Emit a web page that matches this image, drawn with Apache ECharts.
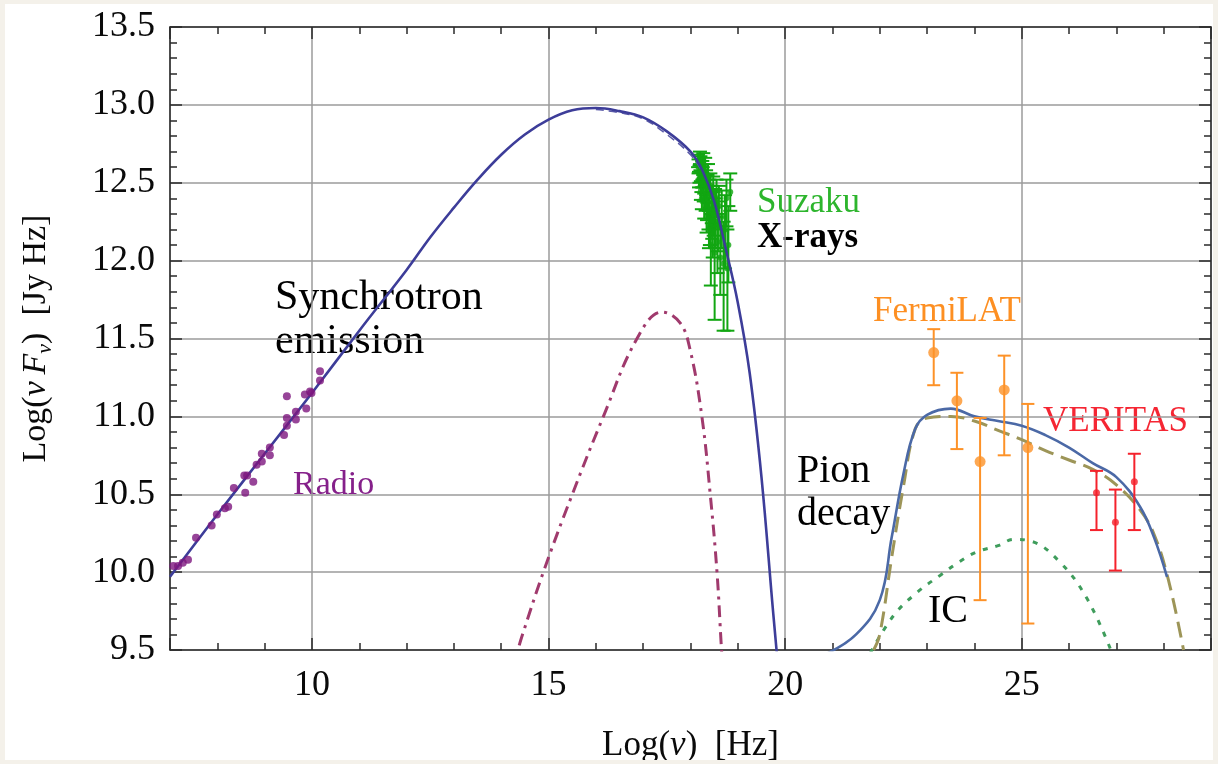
<!DOCTYPE html>
<html>
<head>
<meta charset="utf-8">
<script src="https://cdn.jsdelivr.net/npm/echarts@6/dist/echarts.min.js"></script>
<style>
  html, body { margin: 0; padding: 0; background: #f4f1ea; }
  #chart { position: absolute; left: 5px; top: 4px; width: 1208px; height: 756px; background: #ffffff; }
</style>
</head>
<body>
<div id="chart"></div>
<script>
// ---- Axis ranges ----
const X_MIN = 7, X_MAX = 29;
const Y_MIN = 9.5, Y_MAX = 13.5, Y_STEP = 0.5;

// ---- Radio observations (log nu [Hz], log nuFnu [Jy Hz]) ----
const radioX = [7.07, 7.17, 7.27, 7.38, 7.55, 7.88, 7.99, 8.16, 8.23, 8.35, 8.59, 8.57, 8.63, 8.76, 8.83,
                8.94, 8.94, 9.11, 9.11, 9.41, 9.47, 9.47, 9.66, 9.66, 9.47, 9.88, 9.85, 9.96, 9.99, 10.17, 10.17];
const radioY = [10.04, 10.04, 10.06, 10.08, 10.22, 10.30, 10.37, 10.41, 10.42, 10.54, 10.51, 10.62, 10.62, 10.58, 10.69,
                10.71, 10.76, 10.75, 10.80, 10.88, 10.94, 10.99, 10.98, 11.03, 11.13, 11.05, 11.14, 11.16, 11.15, 11.23, 11.29];

// ---- Suzaku X-ray points with lower / upper error ----
const suzX  = [18.17, 18.19, 18.21, 18.23, 18.25, 18.27, 18.28, 18.30, 18.32, 18.33, 18.35, 18.36, 18.38, 18.40, 18.41, 18.43,
               18.45, 18.47, 18.49, 18.51, 18.53, 18.55, 18.57, 18.60, 18.63, 18.66, 18.70, 18.73, 18.76, 18.80, 18.84, 18.78,
               18.16, 18.18, 18.20, 18.22, 18.24, 18.26, 18.29, 18.31, 18.34, 18.37, 18.39, 18.42, 18.46, 18.48, 18.52, 18.58];
const suzY  = [12.60, 12.55, 12.63, 12.50, 12.58, 12.62, 12.45, 12.55, 12.40, 12.50, 12.35, 12.46, 12.30, 12.42, 12.22, 12.10,
               12.36, 12.18, 12.30, 12.05, 12.25, 12.40, 12.12, 12.35, 12.02, 12.28, 11.98, 12.20, 12.40, 12.10, 12.44, 11.95,
               12.64, 12.52, 12.66, 12.45, 12.40, 12.53, 12.35, 12.60, 12.28, 12.55, 12.20, 12.48, 12.26, 12.44, 12.35, 12.22];
const suzLo = [12.56, 12.50, 12.58, 12.44, 12.52, 12.55, 12.38, 12.48, 12.32, 12.42, 12.26, 12.37, 12.20, 12.32, 12.10, 11.84,
               12.24, 12.02, 12.16, 11.62, 12.08, 12.28, 11.92, 12.20, 11.78, 12.08, 11.55, 11.95, 12.22, 11.86, 12.32, 11.55,
               12.60, 12.47, 12.62, 12.39, 12.33, 12.47, 12.27, 12.54, 12.18, 12.48, 12.08, 12.40, 12.14, 12.34, 12.22, 12.06];
const suzHi = [12.65, 12.61, 12.67, 12.57, 12.64, 12.69, 12.53, 12.62, 12.48, 12.58, 12.44, 12.55, 12.40, 12.52, 12.34, 12.30,
               12.48, 12.32, 12.44, 12.28, 12.40, 12.52, 12.30, 12.48, 12.22, 12.45, 12.25, 12.42, 12.52, 12.35, 12.56, 12.20,
               12.68, 12.57, 12.70, 12.51, 12.47, 12.60, 12.43, 12.66, 12.38, 12.62, 12.32, 12.56, 12.38, 12.54, 12.46, 12.38];

// ---- Fermi-LAT points ----
const fermiX  = [23.14, 23.63, 24.12, 24.63, 25.13];
const fermiY  = [11.41, 11.10, 10.71, 11.17, 10.80];
const fermiLo = [11.20, 10.79, 9.82, 10.75, 9.67];
const fermiHi = [11.56, 11.28, 10.99, 11.39, 11.08];

// ---- VERITAS points ----
const verX  = [26.58, 26.98, 27.38];
const verY  = [10.51, 10.32, 10.58];
const verLo = [10.27, 10.01, 10.27];
const verHi = [10.65, 10.53, 10.76];

// ---- Model curves ----
// total synchrotron
const synX = [7, 8, 9, 10, 11, 12, 12.5, 13, 13.5, 14, 14.5, 15, 15.5, 16, 16.5, 17, 17.5, 18, 18.25, 18.5, 18.75, 19, 19.25, 19.5, 19.75, 20];
const synY = [9.97, 10.37, 10.76, 11.15, 11.55, 11.94, 12.15, 12.34, 12.52, 12.68, 12.81, 12.905, 12.965, 12.98, 12.96, 12.92, 12.83, 12.70, 12.58, 12.38, 12.07, 11.73, 11.28, 10.61, 9.73, 8.90];
// synchrotron component alone (dashed)
const synCompX = [16.0, 16.5, 17.0, 17.5, 18.0, 18.25];
const synCompY = [12.97, 12.95, 12.91, 12.81, 12.68, 12.57];
// secondary component (dash-dot)
const secX = [14.38, 14.44, 14.89, 15.49, 16.16, 16.87, 17.4, 17.78, 17.99, 18.24, 18.42, 18.56, 18.65, 18.68];
const secY = [9.53, 9.59, 10.00, 10.49, 11.00, 11.50, 11.67, 11.60, 11.43, 11.00, 10.49, 10.00, 9.53, 9.40];
// gamma-ray total
const gamX = [20.9, 21.5, 22.0, 22.25, 22.5, 22.75, 23.0, 23.5, 24.0, 24.5, 25.0, 25.5, 26.0, 26.5, 27.0, 27.5, 27.8, 28.07];
const gamY = [9.48, 9.60, 9.82, 10.22, 10.63, 10.92, 11.01, 11.05, 11.00, 10.97, 10.94, 10.88, 10.80, 10.70, 10.61, 10.42, 10.22, 9.97];
// pion decay (dashed)
const pionX = [21.87, 22.0, 22.25, 22.5, 22.75, 23.0, 23.5, 24.0, 24.5, 25.0, 25.5, 26.0, 26.5, 27.0, 27.5, 27.8, 28.1, 28.42];
const pionY = [9.50, 9.60, 10.09, 10.55, 10.92, 10.99, 11.00, 10.97, 10.91, 10.85, 10.78, 10.72, 10.66, 10.56, 10.40, 10.24, 9.95, 9.50];
// inverse Compton (dotted)
const icX = [21.8, 22.29, 22.79, 23.28, 23.70, 24.05, 24.5, 24.83, 25.18, 25.82, 26.38, 26.87];
const icY = [9.48, 9.72, 9.87, 9.98, 10.07, 10.13, 10.17, 10.21, 10.20, 10.06, 9.83, 9.51];

// ---- Styling ----
const SERIF = '"Liberation Serif", "DejaVu Serif", serif';
const FRAME = '#2a2a2a';
const GRID = '#9b9b9b';

const zip = (a, b) => a.map((v, i) => [v, b[i]]);
const zip3 = (a, b, c) => a.map((v, i) => [v, b[i], c[i]]);

function errorBars(capHalf, width, color) {
  return function (params, api) {
    const x = api.value(0);
    const lo = api.coord([x, api.value(1)]);
    const hi = api.coord([x, api.value(2)]);
    const style = { stroke: color, lineWidth: width };
    return {
      type: 'group',
      children: [
        { type: 'line', shape: { x1: lo[0], y1: lo[1], x2: hi[0], y2: hi[1] }, style },
        { type: 'line', shape: { x1: lo[0] - capHalf, y1: lo[1], x2: lo[0] + capHalf, y2: lo[1] }, style },
        { type: 'line', shape: { x1: hi[0] - capHalf, y1: hi[1], x2: hi[0] + capHalf, y2: hi[1] }, style }
      ]
    };
  };
}

function curve(name, xs, ys, color, width, dash, z) {
  return {
    name, type: 'line', data: zip(xs, ys), smooth: 0.4,
    showSymbol: false, symbol: 'none', clip: true, z: z || 2,
    lineStyle: { color, width, type: dash || 'solid', cap: 'butt' }
  };
}

const axisCommon = {
  axisLine: { show: true, onZero: false, lineStyle: { color: FRAME, width: 1.5 } },
  axisTick: { show: true, inside: true, length: 12, lineStyle: { color: FRAME, width: 1.5 } },
  minorTick: { show: true, splitNumber: 5, length: 7, lineStyle: { color: FRAME, width: 1.5 } }
};

const chart = echarts.init(document.getElementById('chart'), null, { renderer: 'canvas' });

const tickFont = { fontFamily: SERIF, fontSize: 36, color: '#0a0a0a' };

const option = {
  animation: false,
  backgroundColor: '#ffffff',
  grid: { left: 165, top: 23, right: 2, bottom: 110, outerBoundsMode: 'none' },
  xAxis: [
    Object.assign({
      type: 'value', min: X_MIN, max: X_MAX, position: 'bottom',
      axisLabel: Object.assign({ margin: 18, showMinLabel: false, showMaxLabel: false }, tickFont),
      splitLine: { show: true, lineStyle: { color: GRID, width: 1.5 } },
      name: '{a|Log(}{i|ν}{a|)  [Hz]}',
      nameLocation: 'middle', nameGap: 78,
      nameTextStyle: {
        rich: {
          a: { fontFamily: SERIF, fontSize: 35, color: '#0a0a0a' },
          i: { fontFamily: SERIF, fontSize: 35, fontStyle: 'italic', color: '#0a0a0a' }
        }
      }
    }, axisCommon),
    Object.assign({
      type: 'value', min: X_MIN, max: X_MAX, position: 'top',
      axisLabel: { show: false }, splitLine: { show: false }
    }, axisCommon)
  ],
  yAxis: [
    Object.assign({
      type: 'value', min: Y_MIN, max: Y_MAX, interval: Y_STEP, position: 'left',
      axisLabel: Object.assign({ margin: 15, formatter: v => v.toFixed(1) }, tickFont),
      splitLine: { show: true, lineStyle: { color: GRID, width: 1.5 } },
      name: '{a|Log(}{i|ν\u2009F}{s|ν}{a|)  [Jy Hz]}',
      nameLocation: 'middle', nameGap: 114,
      nameTextStyle: {
        rich: {
          a: { fontFamily: SERIF, fontSize: 34, color: '#0a0a0a', lineHeight: 40 },
          i: { fontFamily: SERIF, fontSize: 34, fontStyle: 'italic', color: '#0a0a0a', lineHeight: 40 },
          s: { fontFamily: SERIF, fontSize: 22, fontStyle: 'italic', color: '#0a0a0a', lineHeight: 22, verticalAlign: 'bottom' }
        }
      }
    }, axisCommon),
    Object.assign({
      type: 'value', min: Y_MIN, max: Y_MAX, interval: Y_STEP, position: 'right',
      axisLabel: { show: false }, splitLine: { show: false }
    }, axisCommon)
  ],
  series: [
    // Suzaku X-ray data
    {
      name: 'Suzaku errors', type: 'custom', clip: true, z: 1,
      data: zip3(suzX, suzLo, suzHi), encode: { x: 0, y: [1, 2] },
      renderItem: errorBars(7, 2, '#12a612')
    },
    {
      name: 'Suzaku', type: 'scatter', z: 1, data: zip(suzX, suzY),
      symbol: 'circle', symbolSize: 6, itemStyle: { color: '#12a612' }
    },
    curve('secondary', secX, secY, '#a03a6d', 3, [12, 6, 3, 6], 2),
    curve('synchrotron component', synCompX, synCompY, '#5a5aa8', 1.5, [8, 5], 2),
    curve('synchrotron', synX, synY, '#3d3d99', 2.6, 'solid', 3),
    curve('IC', icX, icY, '#3f9d5c', 3, [5, 8], 2),
    curve('pion decay', pionX, pionY, '#9d9558', 3, [16, 8], 2),
    curve('gamma total', gamX, gamY, '#4b69a6', 2.6, 'solid', 3),
    // Radio data
    {
      name: 'Radio', type: 'scatter', z: 4, data: zip(radioX, radioY),
      symbol: 'circle', symbolSize: 8, itemStyle: { color: '#7d177e' }
    },
    // Fermi-LAT
    {
      name: 'FermiLAT errors', type: 'custom', clip: true, z: 4,
      data: zip3(fermiX, fermiLo, fermiHi), encode: { x: 0, y: [1, 2] },
      renderItem: errorBars(6.5, 2, '#fd9228')
    },
    {
      name: 'FermiLAT', type: 'scatter', z: 5, data: zip(fermiX, fermiY),
      symbol: 'circle', symbolSize: 11, itemStyle: { color: '#fd9228' }
    },
    // VERITAS
    {
      name: 'VERITAS errors', type: 'custom', clip: true, z: 4,
      data: zip3(verX, verLo, verHi), encode: { x: 0, y: [1, 2] },
      renderItem: errorBars(6.5, 2, '#f5222c')
    },
    {
      name: 'VERITAS', type: 'scatter', z: 5, data: zip(verX, verY),
      symbol: 'circle', symbolSize: 7, itemStyle: { color: '#f5222c' }
    }
  ],
  graphic: [
    { type: 'text', left: 270, top: 273, style: { text: 'Synchrotron', font: '42px ' + SERIF, fill: '#000' } },
    { type: 'text', left: 270, top: 317, style: { text: 'emission', font: '42px ' + SERIF, fill: '#000' } },
    { type: 'text', left: 288, top: 464, style: { text: 'Radio', font: '34px ' + SERIF, fill: '#85208a' } },
    { type: 'text', left: 752, top: 181, style: { text: 'Suzaku', font: '35px ' + SERIF, fill: '#2db52d' } },
    { type: 'text', left: 752, top: 216, style: { text: 'X-rays', font: 'bold 35px ' + SERIF, fill: '#000' } },
    { type: 'text', left: 868, top: 290, style: { text: 'FermiLAT', font: '35px ' + SERIF, fill: '#fd8f22' } },
    { type: 'text', left: 1038, top: 400, style: { text: 'VERITAS', font: '35px ' + SERIF, fill: '#f52633' } },
    { type: 'text', left: 792, top: 447, style: { text: 'Pion', font: '40px ' + SERIF, fill: '#000' } },
    { type: 'text', left: 792, top: 490, style: { text: 'decay', font: '40px ' + SERIF, fill: '#000' } },
    { type: 'text', left: 923, top: 587, style: { text: 'IC', font: '40px ' + SERIF, fill: '#000' } }
  ]
};

chart.setOption(option);
</script>
</body>
</html>
